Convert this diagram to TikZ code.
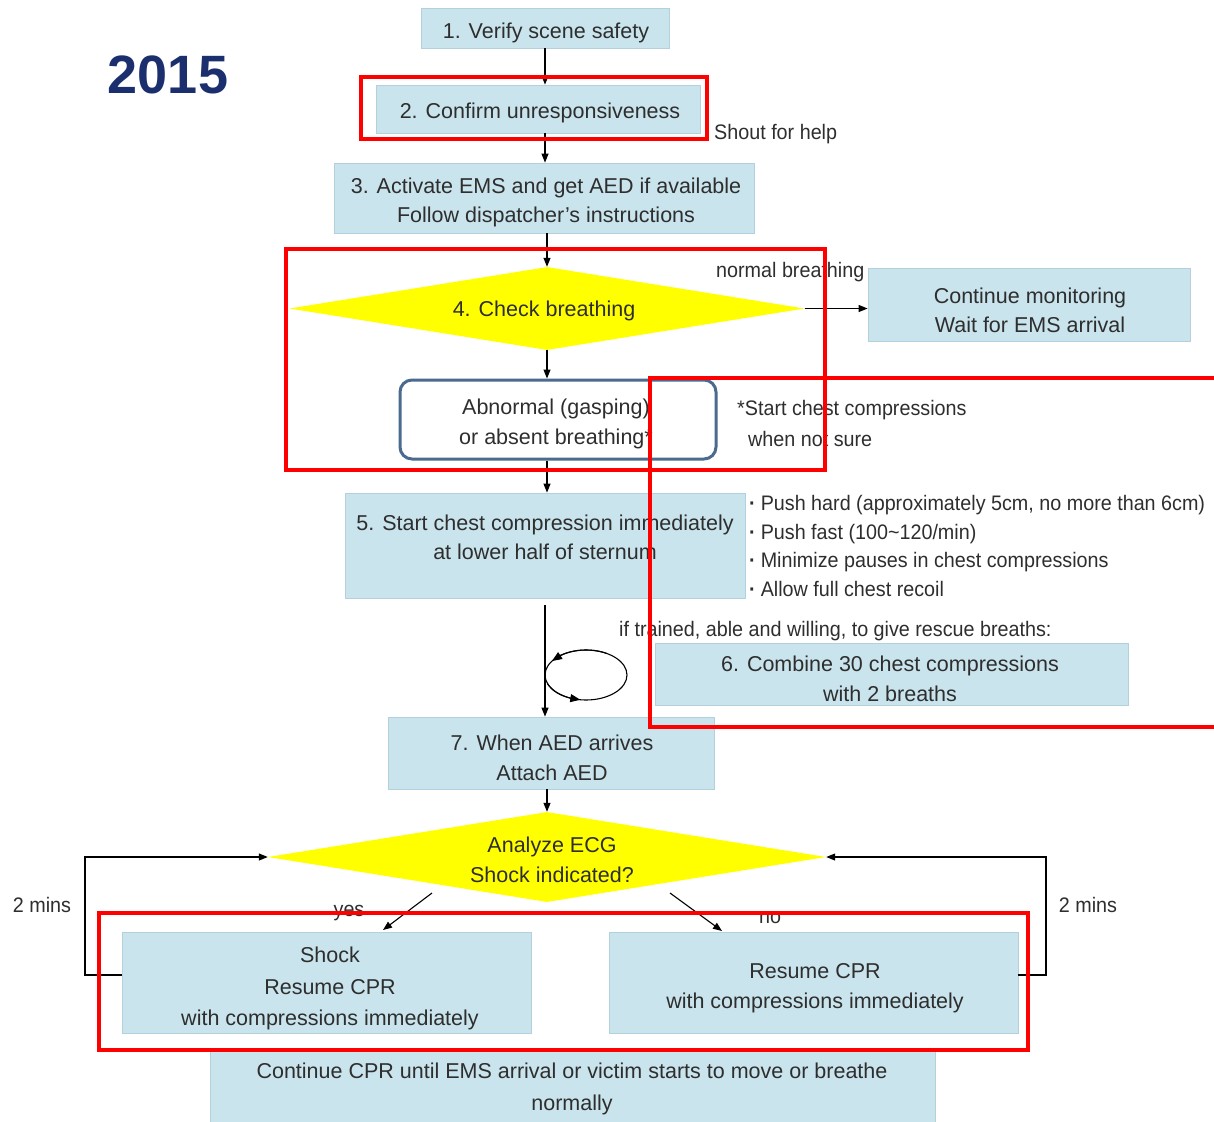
\documentclass[tikz,border=0pt]{standalone}
\usepackage{fontspec}
\setmainfont{Liberation Sans}[FakeStretch=0.94]
\newfontfamily\yearfont{Liberation Sans}
\newfontfamily\boxfont{Liberation Sans}
\usetikzlibrary{shapes.geometric,arrows.meta,bending}
\definecolor{boxblue}{HTML}{C9E4EC}
\definecolor{boxedge}{HTML}{B3D1DC}
\definecolor{txt}{HTML}{2E2E2E}
\definecolor{navy}{HTML}{1B2F6E}
\definecolor{rbord}{HTML}{4A6A90}
\definecolor{dyellow}{HTML}{FFFF00}
\begin{document}
\begin{tikzpicture}[x=1pt,y=-1pt,
  every node/.style={text=txt, font=\fontsize{21}{29.5}\selectfont},
  bluebox/.style={fill=boxblue, draw=boxedge, line width=0.8pt, align=center, inner sep=0pt},
  dia/.style={diamond, fill=dyellow, draw=none, inner sep=0pt, align=center},
  lbl/.style={inner sep=0pt, align=left, yshift=-2pt},
  btxt/.style={inner sep=0pt, align=center, yshift=-2pt, font=\boxfont\fontsize{21.5}{29.5}\selectfont},
  arr/.style={-{Triangle[length=9pt,width=7pt]}, line width=1.1pt, draw=black},
  looparr/.style={-{Triangle[length=10pt,width=8pt,flex]}, line width=1.1pt, draw=black},
  plain/.style={line width=1.1pt, draw=black},
  redbox/.style={draw=red, line width=4pt}
]
\useasboundingbox (0,0) rectangle (1214,1121);
\fill[white] (0,0) rectangle (1214,1121);

\node[inner sep=0pt, text=navy, font=\yearfont\fontsize{54}{60}\selectfont\bfseries] (year) at (168,75) {2015};

% boxes
\node[bluebox, minimum width=248, minimum height=40] (b1) at (545,28) {};
\node[btxt] (b1t) at (546,31) {1. Verify scene safety};
\node[bluebox, minimum width=324, minimum height=48] (b2) at (538,109) {};
\node[btxt] (b2t) at (540,111) {2. Confirm unresponsiveness};
\node[bluebox, minimum width=420, minimum height=70] (b3) at (544,198) {};
\node[btxt] (b3t) at (546,200.5) {3. Activate EMS and get AED if available\\Follow dispatcher’s instructions};

\node[dia, minimum width=515, minimum height=83] (d4) at (547,308.5) {};
\node[btxt] (d4t) at (544,309) {4. Check breathing};

\node[bluebox, minimum width=322, minimum height=73] (cont) at (1029,304.5) {};
\node[btxt] (contt) at (1030,308.5) {Continue monitoring\\Wait for EMS arrival};

\node[draw=rbord, line width=3pt, rounded corners=12pt, fill=white, minimum width=316, minimum height=79, inner sep=0pt] (rb) at (558,419.5) {};
\node[btxt] (rbt) at (556,422) {Abnormal (gasping)\\or absent breathing*};

\node[bluebox, minimum width=400, minimum height=105] (b5) at (545,545.5) {};
\node[btxt] (b5t) at (545,535.5) {5. Start chest compression immediately\\at lower half of sternum};

\node[bluebox, minimum width=473, minimum height=62] (b6) at (891.5,674) {};
\node[btxt] (b6t) at (890,677) {6. Combine 30 chest compressions\\with 2 breaths};

\node[bluebox, minimum width=326, minimum height=72] (b7) at (551,753) {};
\node[btxt] (b7t) at (552,756) {7. When AED arrives\\Attach AED};

\node[dia, minimum width=558, minimum height=90] (dE) at (547,857) {};
\node[btxt] (dEt) at (552,858) {Analyze ECG\\Shock indicated?};

\node[bluebox, minimum width=409, minimum height=101] (shock) at (326.5,982.5) {};
\node[btxt] (shockt) at (330,986.5) {Shock\\[2pt]Resume CPR\\[2pt]with compressions immediately};

\node[bluebox, minimum width=409, minimum height=101] (resume) at (813.5,982.5) {};
\node[btxt] (resumet) at (815,986) {Resume CPR\\with compressions immediately};

\node[bluebox, minimum width=725, minimum height=75] (final) at (572.5,1087.5) {};
\node[btxt] (finalt) at (572,1087) {Continue CPR until EMS arrival or victim starts to move or breathe\\[2.5pt]normally};

% labels
\node[lbl, anchor=west] (shout) at (714,132) {Shout for help};
\node[lbl, anchor=west] (normal) at (716,270) {normal breathing};
\node[lbl, anchor=west] (star1) at (737,408) {*Start chest compressions};
\node[lbl, anchor=west] (star2) at (748,437) {when not sure};
\node[lbl, anchor=west, font=\fontsize{21}{28.7}\selectfont] (bul) at (749,544) {\textbf{·}\hspace{5pt}Push hard (approximately 5cm, no more than 6cm)\\\textbf{·}\hspace{5pt}Push fast (100\textasciitilde120/min)\\\textbf{·}\hspace{5pt}Minimize pauses in chest compressions\\\textbf{·}\hspace{5pt}Allow full chest recoil};
\node[lbl, anchor=west] (iftr) at (619,629) {if trained, able and willing, to give rescue breaths:};
\node[lbl] (yes) at (349,911) {yes};
\node[lbl] (no) at (770,916) {no};
\node[lbl] (m1) at (42,903) {2 mins};
\node[lbl] (m2) at (1088,903) {2 mins};

% connectors
\draw[arr] (b1.south) -- (b1.south |- b2.north);
\draw[arr] (b1.south |- b2.south) -- (b1.south |- b3.north);
\draw[arr] (d4.north |- b3.south) -- (d4.north);
\draw[arr] (d4.east) -- (d4.east -| cont.west);
\draw[arr] (d4.south) -- (d4.south |- rb.north);
\draw[arr] (d4.south |- rb.south) -- (d4.south |- b5.north);
\coordinate (b5gap) at (545,605);
\draw[arr] (b5gap) -- (b5gap |- b7.north);
\draw[arr] (dE.north |- b7.south) -- (dE.north);

\coordinate (ys) at (432,893);
\coordinate (ye) at (383,930);
\draw[arr] (ys) -- (ye);
\coordinate (ns) at (670,893);
\coordinate (ne) at (722,931);
\draw[arr] (ns) -- (ne);

\coordinate (lA) at (122,975);
\coordinate (lB) at (85,975);
\draw[arr] (lA) -- (lB) |- (dE.west);
\coordinate (rA) at (1018,975);
\coordinate (rB) at (1046,975);
\draw[arr] (rA) -- (rB) |- (dE.east);

% loop
\draw[plain] (586,675) ellipse [x radius=41, y radius=25];
\draw[looparr] (586,675) ++(300:41 and 25) arc[start angle=300, end angle=214, x radius=41, y radius=25];
\draw[looparr] (586,675) ++(160:41 and 25) arc[start angle=160, end angle=98, x radius=41, y radius=25];

% red highlight frames
\draw[redbox] (361,77) rectangle (707,139);
\draw[redbox] (286,249) rectangle (825,470);
\draw[redbox] (1216,378) -- (650,378) -- (650,727) -- (1216,727);
\draw[redbox] (99,913) rectangle (1028,1050);
\end{tikzpicture}
\end{document}
